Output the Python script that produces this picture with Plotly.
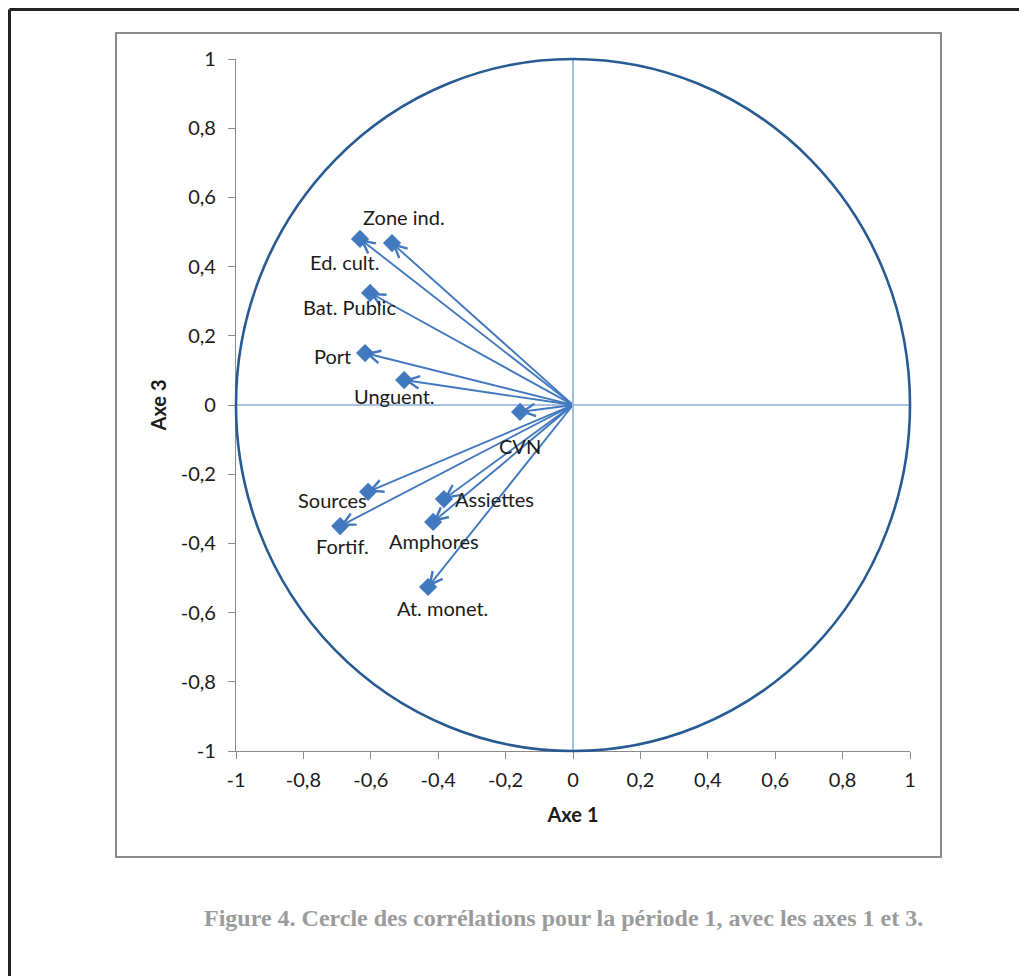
import plotly.graph_objects as go

# ---- data ----
variables = ["Zone ind.", "Ed. cult.", "Bat. Public", "Port", "Unguent.", "CVN",
             "Sources", "Fortif.", "Assiettes", "Amphores", "At. monet."]
axe1 = [-0.537, -0.632, -0.602, -0.617, -0.501, -0.157, -0.608, -0.691, -0.383, -0.415, -0.430]
axe3 = [0.468, 0.480, 0.324, 0.150, 0.072, -0.020, -0.251, -0.350, -0.272, -0.338, -0.526]
tick_vals = [-1, -0.8, -0.6, -0.4, -0.2, 0, 0.2, 0.4, 0.6, 0.8, 1]
tick_labels = ["-1", "-0,8", "-0,6", "-0,4", "-0,2", "0", "0,2", "0,4", "0,6", "0,8", "1"]

# label offsets in pixels (style only)
label_shift = {
    "Zone ind.": (12, 26), "Ed. cult.": (-16, -23), "Bat. Public": (-21, -14),
    "Port": (-33, -3), "Unguent.": (-10, -16), "CVN": (0, -34),
    "Sources": (-36, -8), "Fortif.": (2, -20), "Assiettes": (51, 0),
    "Amphores": (1, -19), "At. monet.": (14, -21),
}

BLUE = "#4279BE"
LIGHT = "#8AAEDC"
CIRCLE = "#285A92"
FONT = "Lato"
TXT = "#1a1a1a"

fig = go.Figure()

# crosshair lines
fig.add_shape(type="line", xref="x", yref="y", x0=0, x1=0, y0=-1, y1=1,
              line=dict(color=LIGHT, width=1.6), layer="below")
fig.add_shape(type="line", xref="x", yref="y", x0=-1, x1=1, y0=0, y1=0,
              line=dict(color=LIGHT, width=1.6), layer="below")

# unit circle (covers the full axis domain since range is [-1, 1])
fig.add_shape(type="circle", xref="paper", yref="paper", x0=0, x1=1, y0=0, y1=1,
              line=dict(color=CIRCLE, width=2.6))

# chart frame and page frame
fig.add_shape(type="rect", xref="paper", yref="paper",
              x0=(116 - 236) / 674, x1=(941 - 236) / 674,
              y0=(751 - 857) / 692, y1=(751 - 33) / 692,
              line=dict(color="#8a8a8a", width=2))
fig.add_shape(type="line", xref="paper", yref="paper",
              x0=(9.5 - 236) / 674, x1=(1040 - 236) / 674,
              y0=(751 - 9.5) / 692, y1=(751 - 9.5) / 692,
              line=dict(color="#222222", width=3))
fig.add_shape(type="line", xref="paper", yref="paper",
              x0=(9.5 - 236) / 674, x1=(9.5 - 236) / 674,
              y0=(751 - 990) / 692, y1=(751 - 9.5) / 692,
              line=dict(color="#222222", width=3))

# arrows from origin
for name, x, y in zip(variables, axe1, axe3):
    fig.add_annotation(x=x, y=y, ax=0, ay=0, xref="x", yref="y", axref="x", ayref="y",
                       showarrow=True, arrowhead=5, arrowsize=1.3, arrowwidth=1.9,
                       arrowcolor=BLUE, text="")

# diamond markers
fig.add_trace(go.Scatter(x=axe1, y=axe3, mode="markers",
                         marker=dict(symbol="diamond", size=14, color=BLUE),
                         hoverinfo="text", text=variables, showlegend=False,
                         cliponaxis=False))

# labels
for name, x, y in zip(variables, axe1, axe3):
    dx, dy = label_shift[name]
    fig.add_annotation(x=x, y=y, xref="x", yref="y", text=name, showarrow=False,
                       xshift=dx, yshift=dy, xanchor="center", yanchor="middle",
                       font=dict(family=FONT, size=20, color=TXT))

# caption
fig.add_annotation(xref="paper", yref="paper", x=(563 - 236) / 674, y=(751 - 918) / 692,
                   text="Figure 4. Cercle des corrélations pour la période 1, avec les axes 1 et 3.",
                   showarrow=False, xanchor="center", yanchor="middle",
                   font=dict(family="Liberation Serif", size=24, color="#9b9b9b", weight="bold"))

axis_common = dict(range=[-1, 1], tickvals=tick_vals, ticktext=tick_labels,
                   showgrid=False, zeroline=False, showline=True, linecolor="#8a8a8a",
                   linewidth=1.2, ticks="outside", ticklen=7, tickcolor="#8a8a8a",
                   tickfont=dict(family=FONT, size=20, color=TXT))

# the page adds an 8 px body margin, so the margins are shifted by 8 px
fig.update_layout(
    width=1027, height=976,
    margin=dict(l=228, r=125, t=51, b=233),
    paper_bgcolor="white", plot_bgcolor="white",
    xaxis=dict(**axis_common, ticklabelstandoff=4,
               title=dict(text="Axe 1", standoff=17,
                          font=dict(family=FONT, size=20, color=TXT, weight="bold"))),
    yaxis=dict(**axis_common, ticklabelstandoff=8,
               title=dict(text="Axe 3", standoff=8,
                          font=dict(family=FONT, size=20, color=TXT, weight="bold"))),
)

fig.write_html("out.html")
